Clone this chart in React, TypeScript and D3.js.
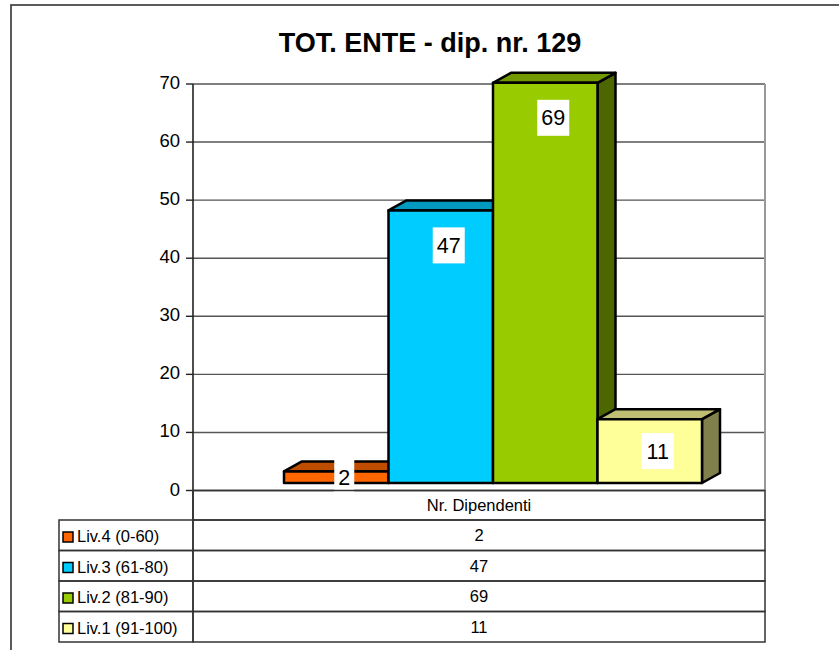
import React from "react";
import * as d3 from "d3";

const title = "TOT. ENTE - dip. nr. 129";
const category = "Nr. Dipendenti";
const seriesNames = ["Liv.4 (0-60)", "Liv.3 (61-80)", "Liv.2 (81-90)", "Liv.1 (91-100)"];
const seriesValues = [2, 47, 69, 11];
const seriesColors = ["#FF6600", "#00CCFF", "#99CC00", "#FFFF99"];
const yTicks = [0, 10, 20, 30, 40, 50, 60, 70];

const W = 839;
const H = 650;
const FONT = "'Liberation Sans', Arial, sans-serif";

export default function App() {
  // layout
  const plotL = 193, plotR = 765;
  const dx = 18, dy = 10;
  const yBack = d3.scaleLinear().domain([0, 70]).range([490.5, 84]);
  const yFront = d3.scaleLinear().domain([0, 70]).range([483, 77]);
  const x = d3.scaleBand<string>().domain(seriesNames).range([284, 702]).padding(0);
  const tableL = 59;
  const headerTop = yBack(0);
  const headerBottom = 520;
  const rowH = 30.5;
  const rowY = d3.scaleBand<string>().domain(seriesNames).range([headerBottom, headerBottom + rowH * seriesNames.length]);
  const midX = (plotL + plotR) / 2;

  const shade = (c: string, k: number) => {
    const col = d3.rgb(c);
    return d3.rgb(col.r * k, col.g * k, col.b * k).formatHex();
  };

  return (
    <svg width={W} height={H} style={{ position: "absolute", left: 0, top: 0, background: "#fff" }} fontFamily={FONT}>
      <rect x={0} y={0} width={W} height={H} fill="#fff" />
      {/* outer frame */}
      <rect x={11} y={5} width={W + 20} height={H + 20} fill="none" stroke="#333" strokeWidth={1.6} />
      {/* title */}
      <text x={430} y={52} textAnchor="middle" fontSize={27} fontWeight="bold" fill="#000">{title}</text>

      {/* gridlines */}
      {yTicks.map((t) => (
        <line key={"g" + t} x1={plotL} x2={plotR} y1={yBack(t)} y2={yBack(t)} stroke={t === 0 ? "#222" : "#555"} strokeWidth={t === 0 ? 1.6 : 1.4} />
      ))}
      {/* plot right border */}
      <line x1={plotR} x2={plotR} y1={yBack(70)} y2={yBack(0)} stroke="#999" strokeWidth={2} />
      {/* y axis */}
      <line x1={plotL} x2={plotL} y1={yBack(70)} y2={headerBottom} stroke="#222" strokeWidth={1.6} />
      {yTicks.map((t) => (
        <g key={"t" + t}>
          <line x1={186} x2={plotL} y1={yBack(t)} y2={yBack(t)} stroke="#222" strokeWidth={1.4} />
          <text x={180} y={yBack(t) + 5} textAnchor="end" fontSize={18.5} fill="#000">{t}</text>
        </g>
      ))}

      {/* 3D bars */}
      {seriesNames.map((s, i) => {
        const x0 = x(s)!;
        const x1 = x0 + x.bandwidth();
        const top = yFront(seriesValues[i]);
        const base = yFront(0);
        const c = seriesColors[i];
        const topFace = `M${x0},${top}L${x0 + dx},${top - dy}L${x1 + dx},${top - dy}L${x1},${top}Z`;
        const side = `M${x1},${top}L${x1 + dx},${top - dy}L${x1 + dx},${base - dy}L${x1},${base}Z`;
        return (
          <g key={s} stroke="#000" strokeWidth={2.5} strokeLinejoin="round">
            <path d={side} fill={shade(c, 0.5)} />
            <path d={topFace} fill={shade(c, 0.75)} />
            <rect x={x0} y={top} width={x1 - x0} height={base - top} fill={c} />
          </g>
        );
      })}

      {/* data labels */}
      {seriesNames.map((s, i) => {
        const x0 = x(s)!;
        const cx = x0 + x.bandwidth() / 2 + 8;
        const top = yFront(seriesValues[i]);
        const base = yFront(0);
        const cy = Math.min(top + 35, (top + base) / 2);
        const label = String(seriesValues[i]);
        const w = label.length * 12 + 8;
        return (
          <g key={"l" + s}>
            <rect x={cx - w / 2} y={cy - 18} width={w} height={36} fill="#fff" />
            <text x={cx} y={cy + 7.5} textAnchor="middle" fontSize={21.5} fill="#000">{label}</text>
          </g>
        );
      })}

      {/* data table */}
      <g stroke="#333" strokeWidth={1.5} fill="none">
        <rect x={plotL} y={headerTop} width={plotR - plotL} height={headerBottom - headerTop} />
        {seriesNames.map((s) => (
          <g key={"r" + s}>
            <rect x={tableL} y={rowY(s)!} width={plotL - tableL} height={rowH} />
            <rect x={plotL} y={rowY(s)!} width={plotR - plotL} height={rowH} />
          </g>
        ))}
      </g>
      <text x={midX} y={headerTop + 20} textAnchor="middle" fontSize={16.5} fill="#000">{category}</text>
      {seriesNames.map((s, i) => {
        const ry = rowY(s)!;
        return (
          <g key={"c" + s}>
            <rect x={63} y={ry + 12} width={10} height={10} fill={seriesColors[i]} stroke="#000" strokeWidth={1.5} />
            <text x={77} y={ry + 22} fontSize={16.5} fill="#000">{s}</text>
            <text x={midX} y={ry + 21} textAnchor="middle" fontSize={16.5} fill="#000">{seriesValues[i]}</text>
          </g>
        );
      })}
    </svg>
  );
}
